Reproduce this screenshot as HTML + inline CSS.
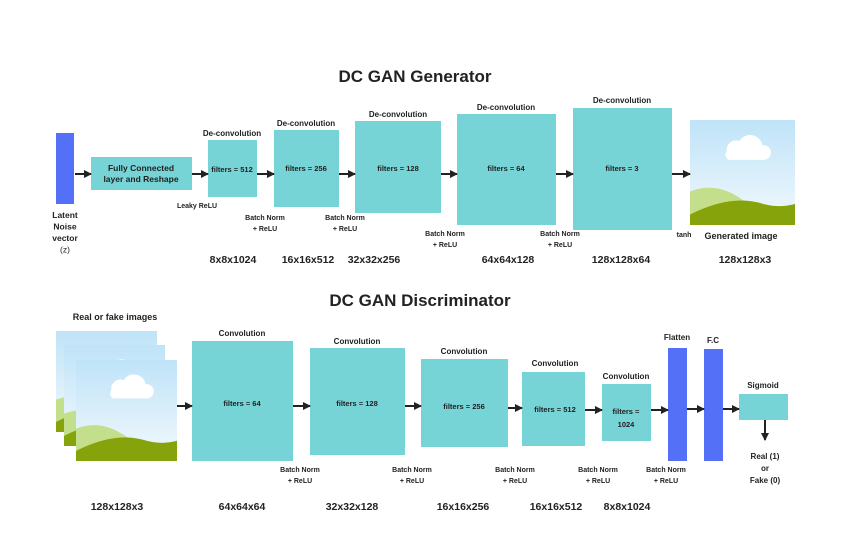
<!DOCTYPE html>
<html><head><meta charset="utf-8"><style>
html,body{margin:0;padding:0;background:#fff}
svg{display:block}
text{font-family:"Liberation Sans",sans-serif;fill:#222;font-weight:bold}
</style></head><body>
<svg width="850" height="558" viewBox="0 0 850 558">
<defs>
<linearGradient id="sky" x1="0" y1="0" x2="0" y2="1"><stop offset="0" stop-color="#bfe3f8"/><stop offset="1" stop-color="#f2f9fd"/></linearGradient>
<marker id="ah" markerWidth="8" markerHeight="8" refX="7" refY="4" orient="auto" markerUnits="userSpaceOnUse"><path d="M0,0 L8,4 L0,8 z" fill="#222"/></marker>
<g id="pic">
<rect x="0" y="0" width="100" height="100" fill="url(#sky)"/>
<path d="M35,30 a9,9 0 0 1 12,-10 a12,12 0 0 1 22,4 a7,7 0 0 1 2,14 h-34 a5,5 0 0 1 -2,-8z" fill="#fff"/>
<path d="M0,68 Q25,58 50,76 Q75,88 100,82 V100 H0z" fill="#c3df8c"/>
<path d="M0,90 Q40,70 70,80 Q85,84 100,80 V100 H0z" fill="#86a30b"/>
</g>
</defs>

<text x="415" y="82" font-size="17" text-anchor="middle">DC GAN Generator</text>

<g font-size="8" text-anchor="middle">
<rect x="56" y="133" width="18" height="71" fill="#5470f7"/>
<text x="65" y="218" font-size="8.5"><tspan x="65">Latent</tspan><tspan x="65" dy="11.5">Noise</tspan><tspan x="65" dy="11.5">vector</tspan><tspan x="65" dy="11.5" font-weight="normal">(z)</tspan></text>
<rect x="91" y="157" width="101" height="33" fill="#76d3d6"/>
<text x="141" y="171" font-size="8.5"><tspan x="141">Fully Connected</tspan><tspan x="141" dy="11">layer and Reshape</tspan></text>
<text x="197" y="208" font-size="7">Leaky ReLU</text>

<rect x="208" y="140" width="49" height="57" fill="#76d3d6"/>
<text x="232" y="136">De-convolution</text><text x="232" y="172" font-size="7.5">filters = 512</text>
<rect x="274" y="130" width="65" height="77" fill="#76d3d6"/>
<text x="306" y="126">De-convolution</text><text x="306" y="171" font-size="7.5">filters = 256</text>
<rect x="355" y="121" width="86" height="92" fill="#76d3d6"/>
<text x="398" y="117">De-convolution</text><text x="398" y="171" font-size="7.5">filters = 128</text>
<rect x="457" y="114" width="99" height="111" fill="#76d3d6"/>
<text x="506" y="110">De-convolution</text><text x="506" y="171" font-size="7.5">filters = 64</text>
<rect x="573" y="108" width="99" height="122" fill="#76d3d6"/>
<text x="622" y="103">De-convolution</text><text x="622" y="171" font-size="7.5">filters = 3</text>
<use href="#pic" transform="translate(690,120) scale(1.05)"/>

<g font-size="7">
<text x="265" y="220">Batch Norm</text><text x="265" y="231">+ ReLU</text>
<text x="345" y="220">Batch Norm</text><text x="345" y="231">+ ReLU</text>
<text x="445" y="236">Batch Norm</text><text x="445" y="247">+ ReLU</text>
<text x="560" y="236">Batch Norm</text><text x="560" y="247">+ ReLU</text>
<text x="684" y="237">tanh</text>
</g>
<text x="741" y="239" font-size="9">Generated image</text>
</g>

<g stroke="#222" stroke-width="2" marker-end="url(#ah)">
<line x1="75" y1="174" x2="91" y2="174"/><line x1="192" y1="174" x2="208" y2="174"/>
<line x1="257" y1="174" x2="274" y2="174"/><line x1="339" y1="174" x2="355" y2="174"/>
<line x1="441" y1="174" x2="457" y2="174"/><line x1="556" y1="174" x2="573" y2="174"/>
<line x1="672" y1="174" x2="690" y2="174"/>
</g>

<g font-size="10.5" text-anchor="middle" font-weight="normal">
<text x="233" y="263">8x8x1024</text><text x="308" y="263">16x16x512</text><text x="374" y="263">32x32x256</text>
<text x="508" y="263">64x64x128</text><text x="621" y="263">128x128x64</text><text x="745" y="263">128x128x3</text>
</g>

<text x="420" y="306" font-size="17" text-anchor="middle">DC GAN Discriminator</text>

<g font-size="8" text-anchor="middle">
<text x="115" y="320" font-size="9">Real or fake images</text>
<use href="#pic" transform="translate(56,331) scale(1.01)"/>
<use href="#pic" transform="translate(64,345) scale(1.01)"/>
<use href="#pic" transform="translate(76,360) scale(1.01)"/>

<rect x="192" y="341" width="101" height="120" fill="#76d3d6"/>
<text x="242" y="336">Convolution</text><text x="242" y="406" font-size="7.5">filters = 64</text>
<rect x="310" y="348" width="95" height="107" fill="#76d3d6"/>
<text x="357" y="344">Convolution</text><text x="357" y="406" font-size="7.5">filters = 128</text>
<rect x="421" y="359" width="87" height="88" fill="#76d3d6"/>
<text x="464" y="354">Convolution</text><text x="464" y="409" font-size="7.5">filters = 256</text>
<rect x="522" y="372" width="63" height="74" fill="#76d3d6"/>
<text x="555" y="366">Convolution</text><text x="555" y="412" font-size="7.5">filters = 512</text>
<rect x="602" y="384" width="49" height="57" fill="#76d3d6"/>
<text x="626" y="379">Convolution</text><text x="626" y="414" font-size="7.5"><tspan x="626">filters =</tspan><tspan x="626" dy="13">1024</tspan></text>
<rect x="668" y="348" width="19" height="113" fill="#5470f7"/>
<text x="677" y="340">Flatten</text>
<rect x="704" y="349" width="19" height="112" fill="#5470f7"/>
<text x="713" y="343">F.C</text>
<rect x="739" y="394" width="49" height="26" fill="#76d3d6"/>
<text x="763" y="388">Sigmoid</text>
<text x="765" y="459" font-size="8" font-weight="normal"><tspan x="765">Real (1)</tspan><tspan x="765" dy="12">or</tspan><tspan x="765" dy="12">Fake (0)</tspan></text>
<g font-size="7">
<text x="300" y="472">Batch Norm</text><text x="300" y="483">+ ReLU</text>
<text x="412" y="472">Batch Norm</text><text x="412" y="483">+ ReLU</text>
<text x="515" y="472">Batch Norm</text><text x="515" y="483">+ ReLU</text>
<text x="598" y="472">Batch Norm</text><text x="598" y="483">+ ReLU</text>
<text x="666" y="472">Batch Norm</text><text x="666" y="483">+ ReLU</text>
</g>
</g>

<g stroke="#222" stroke-width="2" marker-end="url(#ah)">
<line x1="177" y1="406" x2="192" y2="406"/><line x1="293" y1="406" x2="310" y2="406"/>
<line x1="405" y1="406" x2="421" y2="406"/><line x1="508" y1="408" x2="522" y2="408"/>
<line x1="585" y1="410" x2="602" y2="410"/><line x1="651" y1="410" x2="668" y2="410"/>
<line x1="687" y1="409" x2="704" y2="409"/><line x1="723" y1="409" x2="739" y2="409"/>
<line x1="765" y1="420" x2="765" y2="440"/>
</g>

<g font-size="10.5" text-anchor="middle" font-weight="normal">
<text x="117" y="510">128x128x3</text><text x="242" y="510">64x64x64</text><text x="352" y="510">32x32x128</text>
<text x="463" y="510">16x16x256</text><text x="556" y="510">16x16x512</text><text x="627" y="510">8x8x1024</text>
</g>
</svg>
</body></html>
